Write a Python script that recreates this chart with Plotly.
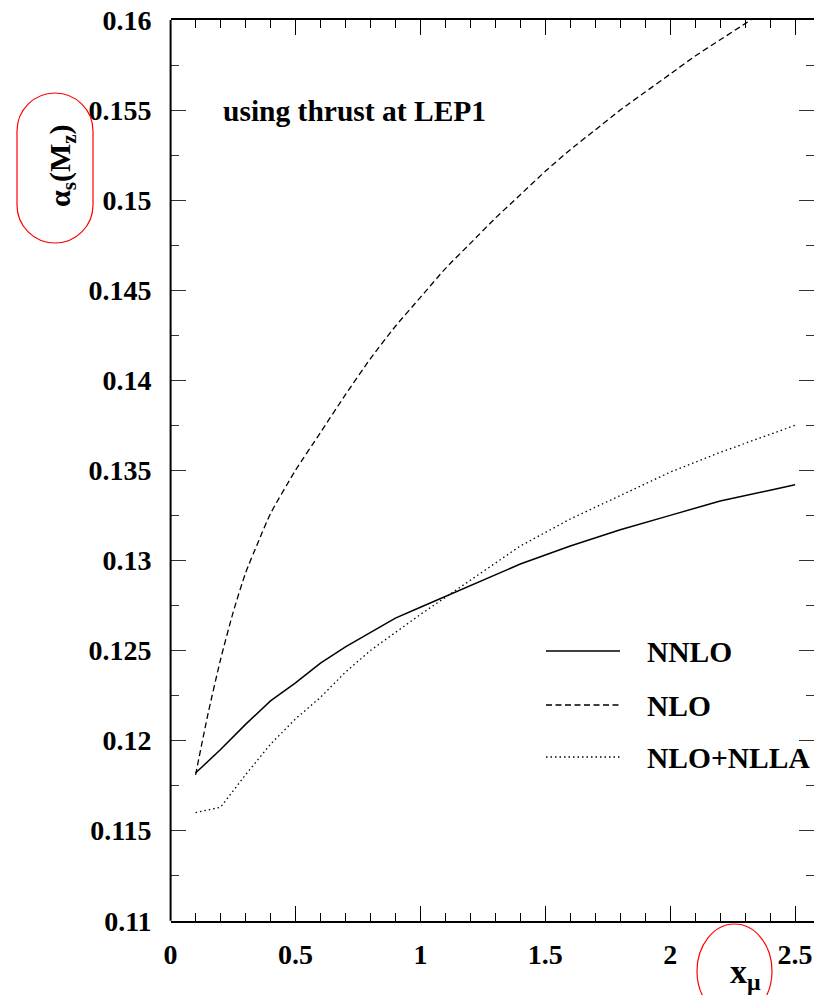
import plotly.graph_objects as go

# ---------------- data ----------------
x_nnlo = [0.1, 0.2, 0.3, 0.4, 0.5, 0.6, 0.7, 0.8, 0.9, 1.0, 1.2, 1.4, 1.6, 1.8, 2.0, 2.2, 2.4, 2.5]
y_nnlo = [0.1182, 0.1195, 0.1209, 0.1222, 0.1232, 0.1243, 0.1252, 0.1260, 0.1268, 0.1274,
          0.1286, 0.1298, 0.1308, 0.1317, 0.1325, 0.1333, 0.1339, 0.1342]

x_nlo = [0.1, 0.15, 0.2, 0.25, 0.3, 0.35, 0.4, 0.5, 0.6, 0.7, 0.8, 0.9, 1.0, 1.1, 1.2, 1.3,
         1.4, 1.5, 1.6, 1.7, 1.8, 1.9, 2.0, 2.1, 2.2, 2.3, 2.4, 2.5]
y_nlo = [0.1181, 0.1215, 0.1245, 0.1271, 0.1293, 0.1310, 0.1326, 0.1350, 0.1371, 0.1392,
         0.1412, 0.1430, 0.1446, 0.1462, 0.1476, 0.1490, 0.1503, 0.1516, 0.1528, 0.1539,
         0.1550, 0.1560, 0.1570, 0.1580, 0.1589, 0.1598, 0.1607, 0.1615]

x_nlla = [0.1, 0.2, 0.3, 0.4, 0.5, 0.6, 0.7, 0.8, 0.9, 1.0, 1.2, 1.4, 1.6, 1.8, 2.0, 2.2, 2.4, 2.5]
y_nlla = [0.1160, 0.1163, 0.1181, 0.1198, 0.1212, 0.1224, 0.1238, 0.1250, 0.1260, 0.1270,
          0.1289, 0.1308, 0.1323, 0.1336, 0.1349, 0.1360, 0.1370, 0.1375]

series_names = ["NNLO", "NLO", "NLO+NLLA"]
x_ticks = [0, 0.5, 1, 1.5, 2, 2.5]
annotation_text = "using thrust at LEP1"

# ---------------- layout helpers ----------------
W, H = 814, 995
def PX(px):
    return px / W
def PY(py):
    return 1 - py / H

FONT = "Liberation Serif, Times New Roman, serif"
tick_font = dict(family=FONT, size=28, color="black", weight="bold")
text_font = dict(family=FONT, size=29.5, color="black", weight="bold")

fig = go.Figure()
fig.add_trace(go.Scatter(x=x_nnlo, y=y_nnlo, mode="lines", name=series_names[0],
                         line=dict(color="black", width=1.5)))
fig.add_trace(go.Scatter(x=x_nlo, y=y_nlo, mode="lines", name=series_names[1],
                         line=dict(color="black", width=1.3, dash="6px,3.5px", shape="spline",
                                   smoothing=0.6)))
fig.add_trace(go.Scatter(x=x_nlla, y=y_nlla, mode="lines", name=series_names[2],
                         line=dict(color="black", width=1.3, dash="1.5px,3px")))

x_left, x_right = 170.6, 814
y_top, y_bot = 20, 920.7
x_unit = 249.8

fig.update_layout(
    template="none",
    width=W, height=H,
    margin=dict(l=0, r=0, t=0, b=0, pad=0),
    paper_bgcolor="white", plot_bgcolor="white",
    showlegend=False,
    xaxis=dict(domain=[PX(x_left), 1], range=[0, (x_right - x_left) / x_unit],
               automargin=False,
               tickvals=x_ticks, ticktext=[f"{v:g}" for v in x_ticks],
               ticks="inside", ticklen=15, tickwidth=1, tickcolor="black",
               minor=dict(dtick=0.1, ticks="inside", ticklen=8, tickwidth=1, tickcolor="black"),
               showline=True, linecolor="black", linewidth=2, mirror="ticks",
               showgrid=False, zeroline=False, tickfont=tick_font,
               ticklabelstandoff=8),
    yaxis=dict(domain=[PY(y_bot), PY(y_top)], range=[0.11, 0.16],
               automargin=False,
               dtick=0.005, tick0=0.11,
               ticks="inside", ticklen=15, tickwidth=1, tickcolor="#333",
               minor=dict(dtick=0.0025, ticks="inside", ticklen=8, tickwidth=1, tickcolor="#333"),
               showline=False, mirror="ticks",
               showgrid=False, zeroline=False, tickfont=tick_font,
               ticklabelstandoff=18),
)

shapes = []
# left frame line
shapes.append(dict(type="line", xref="paper", yref="paper",
                   x0=PX(x_left), x1=PX(x_left), y0=PY(y_bot), y1=PY(y_top),
                   line=dict(color="black", width=2)))

# legend
leg_rows = [(series_names[0], 651, None, 1.5),
            (series_names[1], 705, "6px,3.5px", 1.3),
            (series_names[2], 757, "1.5px,3px", 1.3)]
annotations = []
for name, py, dash, w in leg_rows:
    ln = dict(color="black", width=w)
    if dash:
        ln["dash"] = dash
    shapes.append(dict(type="line", xref="paper", yref="paper",
                       x0=PX(546), x1=PX(620), y0=PY(py), y1=PY(py), line=ln))
    annotations.append(dict(text=name, xref="paper", yref="paper", x=PX(645), y=PY(py + 1),
                            xanchor="left", yanchor="middle", showarrow=False,
                            font=text_font))

# inset text
annotations.append(dict(text=annotation_text, xref="paper", yref="paper",
                        x=PX(221), y=PY(111), xanchor="left", yanchor="middle",
                        showarrow=False, font=text_font))

# axis titles
annotations.append(dict(text="α<sub>s</sub>(M<sub>z</sub>)", xref="paper", yref="paper",
                        x=PX(62), y=PY(166), xanchor="center", yanchor="middle",
                        textangle=-90, showarrow=False,
                        font=dict(family=FONT, size=30, color="black", weight="bold")))
annotations.append(dict(text="x<sub>μ</sub>", xref="paper", yref="paper",
                        x=PX(745), y=PY(974), xanchor="center", yanchor="middle",
                        showarrow=False,
                        font=dict(family=FONT, size=34, color="black", weight="bold")))

# red stadium around y title
def stadium(x0, x1, y0, y1):
    r = (x1 - x0) / 2
    k = 0.5523 * r
    cx = (x0 + x1) / 2
    p = f"M {PX(x0)},{PY(y0 + r)} "
    p += f"C {PX(x0)},{PY(y0 + r - k)} {PX(cx - k)},{PY(y0)} {PX(cx)},{PY(y0)} "
    p += f"C {PX(cx + k)},{PY(y0)} {PX(x1)},{PY(y0 + r - k)} {PX(x1)},{PY(y0 + r)} "
    p += f"L {PX(x1)},{PY(y1 - r)} "
    p += f"C {PX(x1)},{PY(y1 - r + k)} {PX(cx + k)},{PY(y1)} {PX(cx)},{PY(y1)} "
    p += f"C {PX(cx - k)},{PY(y1)} {PX(x0)},{PY(y1 - r + k)} {PX(x0)},{PY(y1 - r)} Z"
    return p

shapes.append(dict(type="path", xref="paper", yref="paper", path=stadium(17, 93, 93, 243),
                   line=dict(color="red", width=1.2)))
shapes.append(dict(type="circle", xref="paper", yref="paper",
                   x0=PX(697), x1=PX(772), y0=PY(924), y1=PY(1018),
                   line=dict(color="red", width=1.2)))

fig.update_layout(shapes=shapes, annotations=annotations)
fig.write_html("out.html")
